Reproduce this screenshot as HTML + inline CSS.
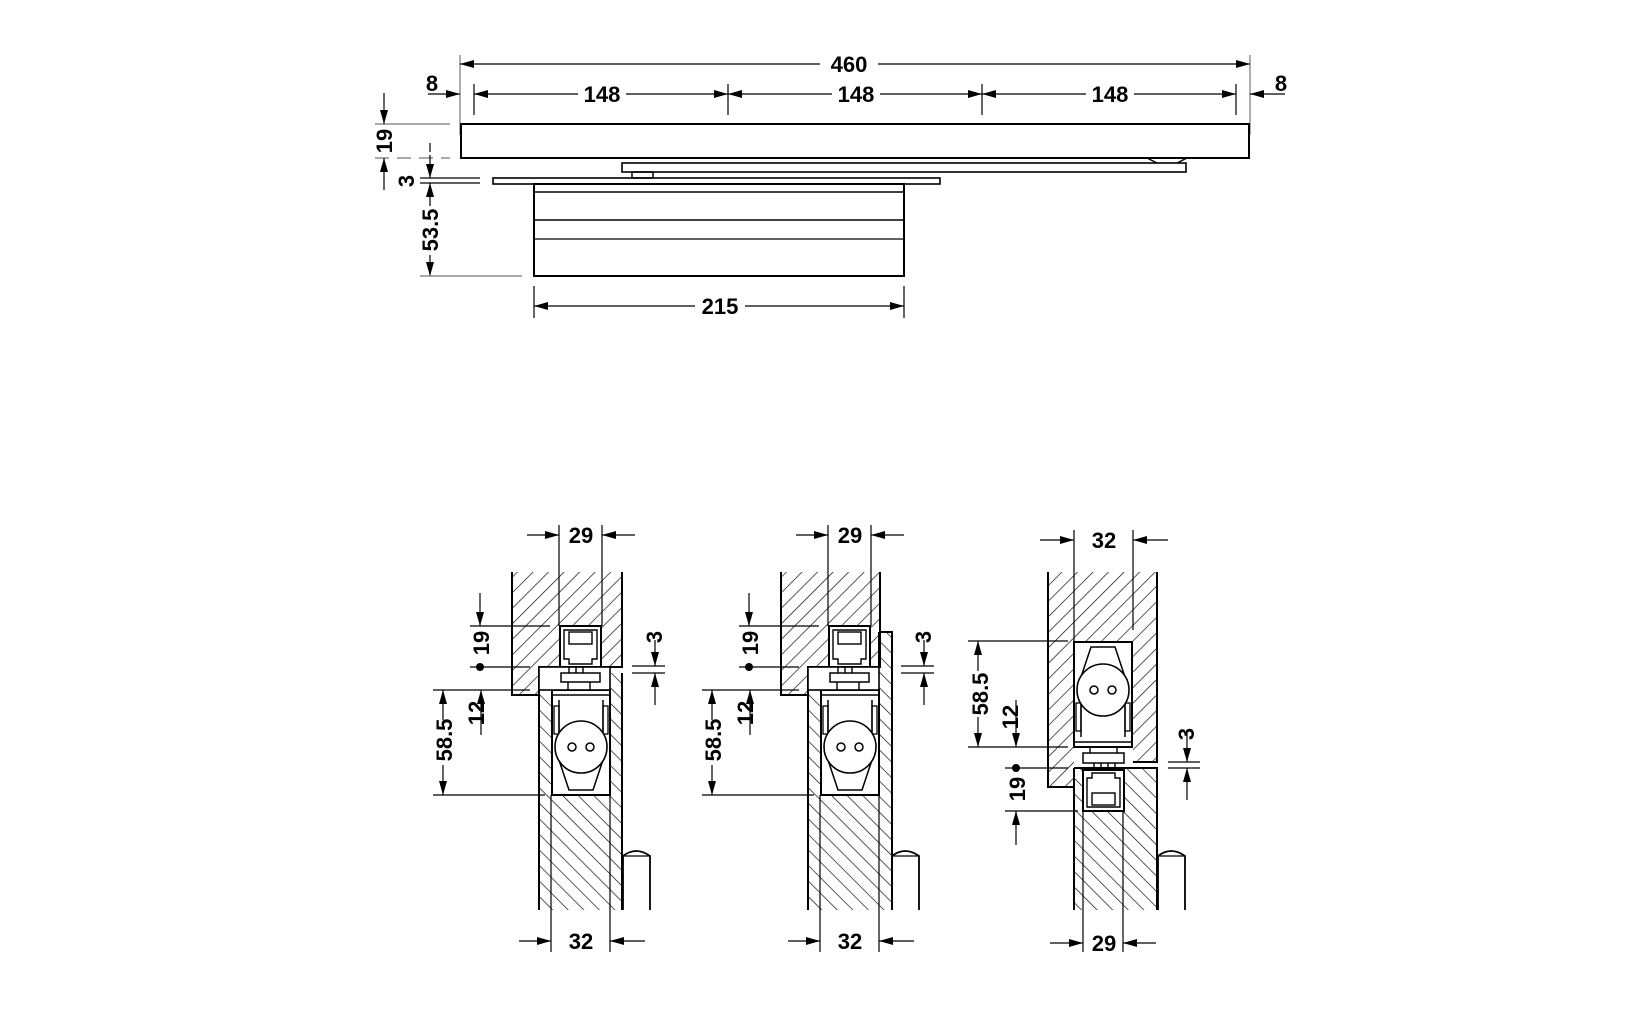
<!DOCTYPE html>
<html><head><meta charset="utf-8"><style>
html,body{margin:0;padding:0;background:#fff}
svg{display:block}
text{font-family:"Liberation Sans",Arial,sans-serif;font-weight:bold;font-size:22px;fill:#000}
</style></head><body>
<svg width="1635" height="1030" viewBox="0 0 1635 1030" xmlns="http://www.w3.org/2000/svg">
<defs>
<marker id="a" viewBox="0 0 14 8" refX="14" refY="4" markerWidth="14" markerHeight="8" markerUnits="userSpaceOnUse" orient="auto"><path d="M0,0 L14,4 L0,8 z" fill="#000"/></marker>
<pattern id="hf" patternUnits="userSpaceOnUse" width="11" height="11" patternTransform="rotate(45)"><line x1="0" y1="0" x2="0" y2="11" stroke="#000" stroke-width="1.3"/></pattern>
<pattern id="hb" patternUnits="userSpaceOnUse" width="11" height="11" patternTransform="rotate(-45)"><line x1="0" y1="0" x2="0" y2="11" stroke="#000" stroke-width="1.3"/></pattern>
<g id="housing">
<rect x="0" y="0" width="58" height="105" fill="#fff" stroke="#000" stroke-width="2"/>
<line x1="0" y1="5" x2="58" y2="5" stroke="#000" stroke-width="1.5"/>
<path d="M7,10 V70 L17,100 H41 L51,70 V10" fill="none" stroke="#000" stroke-width="1.5"/>
<rect x="2" y="16" width="5" height="28" fill="none" stroke="#000" stroke-width="1.3"/>
<rect x="51" y="16" width="5" height="28" fill="none" stroke="#000" stroke-width="1.3"/>
<circle cx="29" cy="57" r="26" fill="#fff" stroke="#000" stroke-width="1.6"/>
<circle cx="20" cy="57" r="4" fill="none" stroke="#000" stroke-width="1.5"/>
<circle cx="38" cy="57" r="4" fill="none" stroke="#000" stroke-width="1.5"/>
</g>
<g id="roller">
<rect x="0" y="0" width="41" height="41" fill="#fff" stroke="#000" stroke-width="2"/>
<path d="M4,4 H37 V33 H32 V38 H9 V33 H4 Z" fill="none" stroke="#000" stroke-width="1.4"/>
<rect x="9" y="6" width="23" height="12" fill="none" stroke="#000" stroke-width="1.4"/>
</g>
<g id="carrier">
<rect x="0" y="0" width="71" height="23" fill="#fff" stroke="#000" stroke-width="1.6"/>
<rect x="22" y="6" width="39" height="9" fill="#fff" stroke="#000" stroke-width="1.5"/>
<path d="M30,0V6M37,0V6M44,0V6M29,15V23M51,15V23" stroke="#000" stroke-width="1.4"/>
</g>
<g id="pin">
<path d="M0,60 V6 Q13,-4 27,6 V60" fill="none" stroke="#000" stroke-width="1.8"/>
<line x1="0" y1="6" x2="27" y2="6" stroke="#000" stroke-width="1.2"/>
</g>
</defs>
<g stroke="#000" fill="none">
<g stroke-width="1.2">
<line x1="460" y1="55" x2="460" y2="135" stroke="#777"/>
<line x1="1250" y1="55" x2="1250" y2="135" stroke="#777"/>
<line x1="474" y1="84" x2="474" y2="115"/>
<line x1="728" y1="84" x2="728" y2="115"/>
<line x1="982" y1="84" x2="982" y2="115"/>
<line x1="1236" y1="84" x2="1236" y2="115"/>
<line x1="820" y1="64" x2="460" y2="64" marker-end="url(#a)"/>
<line x1="878" y1="64" x2="1250" y2="64" marker-end="url(#a)"/>
<line x1="578" y1="94" x2="474" y2="94" marker-end="url(#a)"/>
<line x1="626" y1="94" x2="728" y2="94" marker-end="url(#a)"/>
<line x1="832" y1="94" x2="728" y2="94" marker-end="url(#a)"/>
<line x1="880" y1="94" x2="982" y2="94" marker-end="url(#a)"/>
<line x1="1086" y1="94" x2="982" y2="94" marker-end="url(#a)"/>
<line x1="1134" y1="94" x2="1236" y2="94" marker-end="url(#a)"/>
<line x1="428" y1="94" x2="460" y2="94" marker-end="url(#a)"/>
<line x1="1285" y1="94" x2="1250" y2="94" marker-end="url(#a)"/>
<line x1="375" y1="124" x2="450" y2="124" stroke="#777"/>
<line x1="375" y1="158" x2="450" y2="158" stroke="#777" stroke-dasharray="14,8"/>
<line x1="384" y1="93" x2="384" y2="124" marker-end="url(#a)"/>
<line x1="384" y1="190" x2="384" y2="158" marker-end="url(#a)"/>
<line x1="420" y1="178" x2="480" y2="178"/>
<line x1="420" y1="183" x2="480" y2="183"/>
<line x1="430" y1="143" x2="430" y2="152"/>
<line x1="430" y1="155" x2="430" y2="178" marker-end="url(#a)"/>
<line x1="430" y1="206" x2="430" y2="183" marker-end="url(#a)"/>
<line x1="430" y1="255" x2="430" y2="276" marker-end="url(#a)"/>
<line x1="420" y1="276" x2="522" y2="276" stroke="#777"/>
<line x1="534" y1="286" x2="534" y2="318"/>
<line x1="904" y1="286" x2="904" y2="318"/>
<line x1="695" y1="306" x2="534" y2="306" marker-end="url(#a)"/>
<line x1="745" y1="306" x2="904" y2="306" marker-end="url(#a)"/>
</g>
<g stroke-width="2">
<rect x="461" y="124" width="788" height="34"/>
<rect x="622" y="163" width="564" height="9" stroke-width="1.6"/>
<path d="M1147,158 L1157,163 M1187,158 L1177,163" stroke-width="1.4"/>
<rect x="632" y="172" width="21" height="6" stroke-width="1.5"/>
<rect x="493" y="178" width="447" height="6" stroke-width="1.6"/>
<rect x="534" y="184" width="370" height="92"/>
<line x1="534" y1="192" x2="904" y2="192" stroke-width="1.5"/>
<line x1="534" y1="220" x2="904" y2="220" stroke-width="1.5"/>
<line x1="534" y1="239" x2="904" y2="239" stroke-width="1.2"/>
</g>
</g>
<g>
<text x="849" y="72" text-anchor="middle">460</text>
<text x="602" y="102" text-anchor="middle">148</text>
<text x="856" y="102" text-anchor="middle">148</text>
<text x="1110" y="102" text-anchor="middle">148</text>
<text x="432" y="91" text-anchor="middle">8</text>
<text x="1281" y="91" text-anchor="middle">8</text>
<text transform="translate(392,141) rotate(-90)" text-anchor="middle">19</text>
<text transform="translate(414,181) rotate(-90)" text-anchor="middle">3</text>
<text transform="translate(438,230) rotate(-90)" text-anchor="middle">53.5</text>
<text x="720" y="314" text-anchor="middle">215</text>
</g>

<g id="s1">
<path d="M512,572 H622 V667 H601 V626 H560 V667 H539 V695 H512 Z" fill="url(#hf)"/>
<path d="M512,572 V695 H539 V667 H560 M601,667 H622 V572" fill="none" stroke="#000" stroke-width="2"/>
<path d="M539,690 H552 V795 H610 V673 H622 V910 H539 Z" fill="url(#hb)"/>
<path d="M539,910 V690 M622,673 V910" stroke="#000" stroke-width="2" fill="none"/>
<use href="#housing" x="552" y="690"/>
<use href="#roller" x="560" y="626"/>
<use href="#carrier" x="539" y="667"/>
<g stroke="#000" stroke-width="1.2" fill="none">
<line x1="551" y1="795" x2="551" y2="952"/>
<line x1="610" y1="795" x2="610" y2="952"/>
</g>
</g>
<use href="#pin" x="623" y="850"/>
<g stroke="#000" stroke-width="1.2" fill="none">
<line x1="559" y1="525" x2="559" y2="626"/><line x1="602" y1="525" x2="602" y2="626"/>
<line x1="527" y1="535" x2="559" y2="535" marker-end="url(#a)"/><line x1="635" y1="535" x2="602" y2="535" marker-end="url(#a)"/>
<line x1="470" y1="626" x2="550" y2="626"/>
<line x1="480" y1="593" x2="480" y2="626" marker-end="url(#a)"/>
<line x1="470" y1="667" x2="530" y2="667"/>
<line x1="433" y1="690" x2="530" y2="690"/>
<line x1="433" y1="795" x2="545" y2="795"/>
<line x1="443" y1="720" x2="443" y2="690" marker-end="url(#a)"/>
<line x1="443" y1="765" x2="443" y2="795" marker-end="url(#a)"/>
<line x1="481" y1="735" x2="481" y2="690" marker-end="url(#a)"/>
<line x1="632" y1="666" x2="665" y2="666"/><line x1="632" y1="673" x2="665" y2="673"/>
<line x1="655" y1="640" x2="655" y2="666" marker-end="url(#a)"/>
<line x1="655" y1="705" x2="655" y2="673" marker-end="url(#a)"/>
<line x1="519" y1="941" x2="551" y2="941" marker-end="url(#a)"/>
<line x1="645" y1="941" x2="610" y2="941" marker-end="url(#a)"/>
</g>
<circle cx="480" cy="667" r="4" fill="#000"/>
<text x="581" y="543" text-anchor="middle">29</text>
<text transform="translate(489,643) rotate(-90)" text-anchor="middle">19</text>
<text transform="translate(452,740) rotate(-90)" text-anchor="middle">58.5</text>
<text transform="translate(484,713) rotate(-90)" text-anchor="middle">12</text>
<text transform="translate(662,637) rotate(-90)" text-anchor="middle">3</text>
<text x="581" y="949" text-anchor="middle">32</text>

<g transform="translate(269,0)">
<path d="M512,572 H611 V667 H601 V626 H560 V667 H539 V695 H512 Z" fill="url(#hf)"/>
<path d="M512,572 V695 H539 V667 H560 M601,667 H611 V572" fill="none" stroke="#000" stroke-width="2"/>
<path d="M539,690 H552 V795 H610 V632 H623 V910 H539 Z" fill="url(#hb)"/>
<path d="M539,910 V690 M610,632 H623 V910 M610,632 V667" stroke="#000" stroke-width="2" fill="none"/>
<use href="#housing" x="552" y="690"/>
<use href="#roller" x="560" y="626"/>
<use href="#carrier" x="539" y="667"/>
<g stroke="#000" stroke-width="1.2" fill="none">
<line x1="551" y1="795" x2="551" y2="952"/>
<line x1="610" y1="795" x2="610" y2="952"/>
<line x1="559" y1="525" x2="559" y2="626"/><line x1="602" y1="525" x2="602" y2="626"/>
<line x1="527" y1="535" x2="559" y2="535" marker-end="url(#a)"/><line x1="635" y1="535" x2="602" y2="535" marker-end="url(#a)"/>
<line x1="470" y1="626" x2="550" y2="626"/>
<line x1="480" y1="593" x2="480" y2="626" marker-end="url(#a)"/>
<line x1="470" y1="667" x2="530" y2="667"/>
<line x1="433" y1="690" x2="530" y2="690"/>
<line x1="433" y1="795" x2="545" y2="795"/>
<line x1="443" y1="720" x2="443" y2="690" marker-end="url(#a)"/>
<line x1="443" y1="765" x2="443" y2="795" marker-end="url(#a)"/>
<line x1="481" y1="735" x2="481" y2="690" marker-end="url(#a)"/>
<line x1="632" y1="666" x2="665" y2="666"/><line x1="632" y1="673" x2="665" y2="673"/>
<line x1="655" y1="640" x2="655" y2="666" marker-end="url(#a)"/>
<line x1="655" y1="705" x2="655" y2="673" marker-end="url(#a)"/>
<line x1="519" y1="941" x2="551" y2="941" marker-end="url(#a)"/>
<line x1="645" y1="941" x2="610" y2="941" marker-end="url(#a)"/>
</g>
<use href="#pin" x="623" y="850"/>
<circle cx="480" cy="667" r="4" fill="#000"/>
<text x="581" y="543" text-anchor="middle">29</text>
<text transform="translate(489,643) rotate(-90)" text-anchor="middle">19</text>
<text transform="translate(452,740) rotate(-90)" text-anchor="middle">58.5</text>
<text transform="translate(484,713) rotate(-90)" text-anchor="middle">12</text>
<text transform="translate(662,637) rotate(-90)" text-anchor="middle">3</text>
<text x="581" y="949" text-anchor="middle">32</text>
</g>

<path d="M1048,572 H1157 V762 H1133 V641 H1074 V787 H1048 Z" fill="url(#hf)"/>
<path d="M1048,572 V787 H1074 M1133,762 H1157 V572" fill="none" stroke="#000" stroke-width="2"/>
<path d="M1074,768 H1083 V811 H1123 V768 H1157 V910 H1074 Z" fill="url(#hb)"/>
<path d="M1074,768 V910 M1074,768 H1157 V910" fill="none" stroke="#000" stroke-width="2"/>
<use href="#housing" transform="translate(1074,747) scale(1,-1)"/>
<use href="#roller" transform="translate(1083,811) scale(1,-1)"/>
<rect x="1083" y="753" width="41" height="10" fill="#fff" stroke="#000" stroke-width="1.5"/>
<path d="M1090,747V753M1117,747V753M1094,763V768M1101,763V768M1108,763V768M1115,763V768" stroke="#000" stroke-width="1.4"/>
<use href="#pin" x="1158" y="850"/>
<g stroke="#000" stroke-width="1.2" fill="none">
<line x1="1083" y1="811" x2="1083" y2="952"/>
<line x1="1123" y1="811" x2="1123" y2="952"/>
<line x1="1074" y1="530" x2="1074" y2="641"/><line x1="1133" y1="530" x2="1133" y2="630"/>
<line x1="1040" y1="540" x2="1074" y2="540" marker-end="url(#a)"/><line x1="1168" y1="540" x2="1133" y2="540" marker-end="url(#a)"/>
<line x1="968" y1="641" x2="1068" y2="641"/>
<line x1="968" y1="747" x2="1068" y2="747"/>
<line x1="978" y1="671" x2="978" y2="641" marker-end="url(#a)"/>
<line x1="978" y1="717" x2="978" y2="747" marker-end="url(#a)"/>
<line x1="1016" y1="700" x2="1016" y2="747" marker-end="url(#a)"/>
<line x1="1005" y1="768" x2="1068" y2="768"/>
<line x1="1005" y1="811" x2="1078" y2="811"/>
<line x1="1016" y1="845" x2="1016" y2="811" marker-end="url(#a)"/>
<line x1="1168" y1="762" x2="1200" y2="762"/><line x1="1168" y1="768" x2="1200" y2="768"/>
<line x1="1187" y1="730" x2="1187" y2="762" marker-end="url(#a)"/>
<line x1="1187" y1="800" x2="1187" y2="768" marker-end="url(#a)"/>
<line x1="1050" y1="943" x2="1083" y2="943" marker-end="url(#a)"/>
<line x1="1156" y1="943" x2="1123" y2="943" marker-end="url(#a)"/>
</g>
<circle cx="1016" cy="768" r="4" fill="#000"/>
<text x="1104" y="548" text-anchor="middle">32</text>
<text transform="translate(988,694) rotate(-90)" text-anchor="middle">58.5</text>
<text transform="translate(1018,717) rotate(-90)" text-anchor="middle">12</text>
<text transform="translate(1025,789) rotate(-90)" text-anchor="middle">19</text>
<text transform="translate(1194,734) rotate(-90)" text-anchor="middle">3</text>
<text x="1104" y="951" text-anchor="middle">29</text>
</svg>
</body></html>
